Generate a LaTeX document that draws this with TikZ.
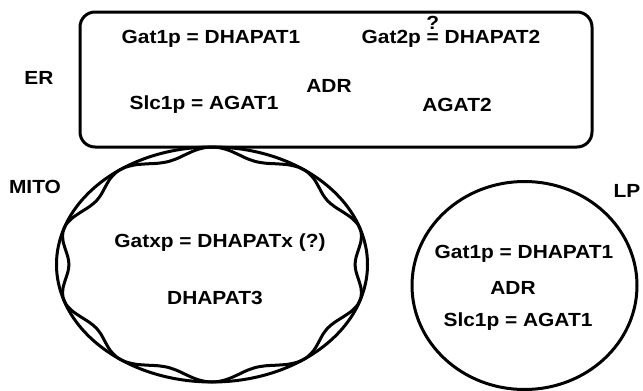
\documentclass[tikz,border=0pt]{standalone}
\usepackage{fontspec}
\setmainfont[FakeStretch=1.1]{Liberation Sans}
\usepackage{tikz}
\usetikzlibrary{shapes.geometric}
\tikzset{organelle/.style={draw,line width=3pt,inner sep=0pt}}
\tikzset{membrane/.style={line width=3pt,line join=round}}
\tikzset{enzyme/.style={font=\bfseries\fontsize{19}{23}\selectfont,inner sep=0pt}}
\newcommand{\queq}{{\ooalign{=\cr\hidewidth\smash{\raisebox{14.5pt}{?}}\hidewidth\cr}}}

\begin{document}
\begin{tikzpicture}[x=1pt,y=-1pt]
	\useasboundingbox (0,0) rectangle (643,391);
	% compartments
	\node[organelle,rounded corners=15pt,minimum width=512pt,minimum height=135pt] (er) at (336,79.5) {};
	\node[organelle,ellipse,minimum width=311pt,minimum height=235pt] (mito) at (212,264.5) {};
	\node[organelle,ellipse,minimum width=225pt,minimum height=208pt] (lp) at (524.5,285.5) {};
	\draw[membrane] plot[smooth cycle,samples=90,domain=0:356]
		({212+155.5*(1-0.04*(1-cos(10*\x+180)))*cos(\x)},{264.5+117.5*(1-0.04*(1-cos(10*\x+180)))*sin(\x)});
	% labels
	\node[enzyme] (erlabel) at (39,78) {ER};
	\node[enzyme] (mitolabel) at (35,187) {MITO};
	\node[enzyme] (lplabel) at (627,191) {LP};
	% ER
	\node[enzyme] (ergat1) at (211,39) {Gat1p = DHAPAT1};
	\node[enzyme] (ergat2) at (451,39) {Gat2p \queq{} DHAPAT2};
	\node[enzyme] (eradr) at (329,86) {ADR};
	\node[enzyme] (erslc) at (204,105) {Slc1p = AGAT1};
	\node[enzyme] (eragat2) at (457,105) {AGAT2};
	% MITO
	\node[enzyme] (mitogat) at (220,243) {Gatxp = DHAPATx (?)};
	\node[enzyme] (mitodhapat) at (215,298) {DHAPAT3};
	% LP
	\node[enzyme] (lpgat1) at (524,254) {Gat1p = DHAPAT1};
	\node[enzyme] (lpadr) at (513,288) {ADR};
	\node[enzyme] (lpslc) at (518,322) {Slc1p = AGAT1};
\end{tikzpicture}
\end{document}
